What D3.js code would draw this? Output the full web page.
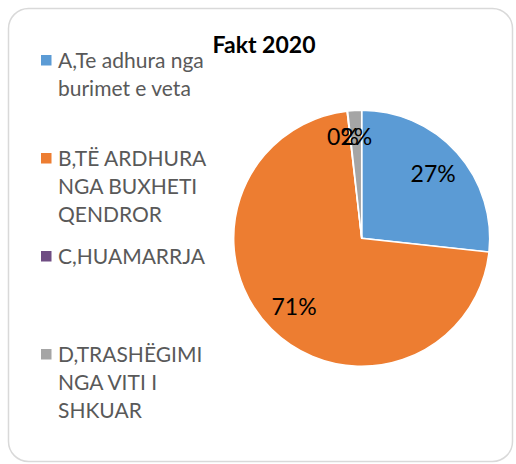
<!DOCTYPE html>
<html>
<head>
<meta charset="utf-8">
<script src="https://cdn.jsdelivr.net/npm/d3@7"></script>
<style>
body{margin:0;background:#fff}
svg text{font-family:Lato,"Noto Sans",sans-serif}
</style>
</head>
<body>
<div id="chart"></div>
<script>
var title = "Fakt 2020"
var categories = ["A,Te adhura nga\nburimet e veta",
    "B,TË ARDHURA\nNGA BUXHETI\nQENDROR",
    "C,HUAMARRJA",
    "D,TRASHËGIMI\nNGA VITI I\nSHKUAR"]
var values = [26.72, 71.46, 0.07, 1.75]
var colors = ["#5b9bd5", "#ed7d31", "#6f4d83", "#a5a5a5"]

var width = 516
var height = 464
var svg = d3.select("#chart").append("svg").attr("width",width).attr("height",height)

// frame
svg.append("rect")
    .attr("x",8.5).attr("y",8.5)
    .attr("width",504).attr("height",453)
    .attr("rx",20).attr("ry",20)
    .attr("fill","#fff")
    .attr("stroke","#d9d9d9")
    .attr("stroke-width",1.5)

// legend
var legend = svg.selectAll(".legend")
    .data(categories)
    .enter()
    .append("g")
    .attr("class","legend")
    .attr("transform",function(d,i){return "translate(41,"+(68+i*98)+")"})
legend.append("rect")
    .attr("x",0).attr("y",-13)
    .attr("width",10.5).attr("height",10.5)
    .attr("fill",function(d,i){return colors[i]})
legend.append("text")
    .attr("x",17)
    .attr("font-size",21)
    .attr("fill","#595959")
    .selectAll("tspan")
    .data(function(d){return d.split("\n")})
    .enter()
    .append("tspan")
    .attr("x",17)
    .attr("y",function(d,i){return i*28})
    .text(function(d){return d})

// pie
var cx = 361.7, cy = 238.3, r = 128
var total = d3.sum(values)
var pie = d3.pie().sort(null).value(function(d){return d})
var arcs = pie(values)
var arc = d3.arc().innerRadius(0).outerRadius(r)
var labelArc = d3.arc().innerRadius(r*0.75).outerRadius(r*0.75)
var g = svg.append("g").attr("transform","translate("+cx+","+cy+")")
g.selectAll(".slice")
    .data(arcs)
    .enter()
    .append("path")
    .attr("class","slice")
    .attr("d",arc)
    .attr("fill",function(d,i){return colors[i]})
    .attr("stroke","#fff")
    .attr("stroke-width",1.5)
g.selectAll(".label")
    .data(arcs)
    .enter()
    .append("text")
    .attr("class","label")
    .attr("transform",function(d){return "translate("+labelArc.centroid(d)+")"})
    .attr("dx",function(d){return d.value/total<0.01 ? -8 : 0})
    .attr("dy",function(d){return d.value/total<0.05 ? "0.1em" : "0.36em"})
    .attr("text-anchor","middle")
    .attr("font-size",23)
    .attr("fill","#000")
    .text(function(d){return Math.round(d.value/total*100)+"%"})

// title
svg.append("text")
    .attr("x",264).attr("y",53)
    .attr("text-anchor","middle")
    .attr("font-size",23)
    .attr("font-weight","bold")
    .attr("fill","#000")
    .text(title)
</script>
</body>
</html>
